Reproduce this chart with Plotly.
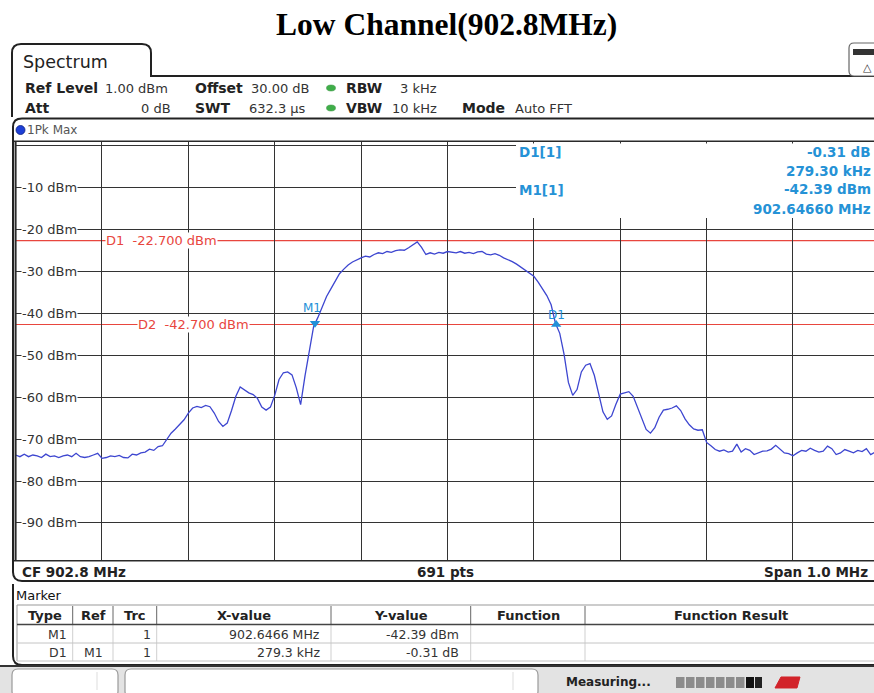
import plotly.graph_objects as go

# ---------------- data ----------------
start_freq_mhz = 902.3
center_freq_mhz = 902.8
span_mhz = 1.0
sample_step_khz = 5
trace_level_dbm = [
    -73.8, -74.2, -73.6, -74.2, -73.8, -74.0, -74.4, -73.6, -74.2, -74.0,
    -74.4, -74.0, -73.8, -74.2, -73.4, -74.2, -74.4, -74.2, -73.8, -73.4,
    -74.6, -74.4, -74.0, -74.2, -73.9, -74.4, -74.5, -73.6, -73.8, -73.3,
    -73.1, -72.4, -72.7, -71.8, -71.6, -70.2, -68.6, -67.6, -66.5, -65.4,
    -63.8, -62.6, -62.2, -62.5, -62.0, -62.3, -63.8, -65.8, -67.0, -66.2,
    -63.2, -59.8, -57.6, -58.4, -59.0, -59.4, -60.3, -62.4, -63.1, -62.4,
    -59.6, -55.8, -54.2, -54.0, -54.7, -57.8, -61.8, -55.0, -48.6, -43.2,
    -41.0, -38.3, -36.0, -34.2, -32.4, -30.6, -29.5, -28.5, -27.8, -27.2,
    -26.8, -26.4, -26.6, -26.0, -25.6, -25.8, -25.3, -25.5, -25.1, -24.9,
    -25.0, -24.4, -23.6, -23.0, -24.3, -26.0, -25.6, -25.9, -25.5, -25.7,
    -25.3, -25.4, -25.6, -25.3, -25.7, -25.5, -25.8, -25.4, -25.3, -25.9,
    -26.1, -25.8, -26.2, -26.8, -27.2, -27.7, -28.3, -29.0, -29.8, -30.5,
    -31.2, -32.6, -34.2, -35.8, -38.0, -42.4, -44.8, -49.8, -56.5, -59.6,
    -58.2, -54.0, -52.4, -52.0, -54.8, -59.2, -63.5, -65.3, -64.5, -61.7,
    -59.3, -59.0, -58.7, -59.8, -62.3, -64.8, -67.7, -68.6, -67.3, -64.8,
    -63.1, -62.9, -62.6, -62.1, -63.2, -65.2, -66.6, -67.6, -67.9, -67.8,
    -70.8, -71.6, -72.5, -72.9, -72.6, -73.1, -72.9, -71.2, -73.1, -72.3,
    -72.7, -73.7, -73.3, -72.9, -72.8, -72.4, -71.5, -72.5, -73.3, -73.5,
    -74.0, -73.3, -72.7, -72.9, -72.2, -72.7, -73.1, -72.9, -71.7, -72.3,
    -73.7, -73.3, -72.5, -72.9, -73.3, -72.7, -73.0, -72.3, -73.7, -73.1,
    -73.3,
]
ref_level_dbm = 1.0
range_db = 100
level_ticks_dbm = [-10, -20, -30, -40, -50, -60, -70, -80, -90]
level_tick_labels = ["-10 dBm", "-20 dBm", "-30 dBm", "-40 dBm", "-50 dBm",
                     "-60 dBm", "-70 dBm", "-80 dBm", "-90 dBm"]
display_lines_dbm = [-22.7, -42.7]
display_line_labels = ["D1  -22.700 dBm", "D2  -42.700 dBm"]
m1_freq_mhz = 902.6466
m1_level_dbm = -42.39
d1_delta_khz = 279.3
d1_delta_db = -0.31
table_header = ["Type", "Ref", "Trc", "X-value", "Y-value", "Function", "Function Result"]
table_rows = [["M1", "", "1", "902.6466 MHz", "-42.39 dBm"],
              ["D1", "M1", "1", "279.3 kHz", "-0.31 dB"]]

freq_mhz = [start_freq_mhz + i * sample_step_khz / 1000.0 for i in range(len(trace_level_dbm))]
d1_freq_mhz = m1_freq_mhz + d1_delta_khz / 1000.0
d1_level_dbm = m1_level_dbm + d1_delta_db

# ---------------- layout helpers (pixel -> paper) ----------------
W, H = 874, 693
PL, PFULL = 15.6, 863.75      # plot left pixel, pixel width of full 10 divisions
PT, PB = 141.2, 560.7         # plot top / bottom pixels
x_right = start_freq_mhz + (W - PL) / PFULL * span_mhz


def X(px):
    return px / W


def Y(py):
    return 1 - py / H


UI = "DejaVu Sans"
ann = []
shp = []


def text(t, x, y, size=13, color="#222", anchor="left", bold=False, bg=None,
         family=UI, yref="paper"):
    d = dict(text=("<b>%s</b>" % t if bold else t), x=X(x), xref="paper",
             y=(Y(y) if yref == "paper" else y), yref=yref,
             xanchor=anchor, yanchor="middle", showarrow=False, borderpad=0,
             font=dict(size=size, color=color, family=family))
    if bg:
        d["bgcolor"] = bg
    ann.append(d)


def line(x0, y0, x1, y1, color="#333", width=1.0, layer="above"):
    shp.append(dict(type="line", xref="paper", yref="paper", x0=X(x0), y0=Y(y0),
                    x1=X(x1), y1=Y(y1), line=dict(color=color, width=width), layer=layer))


def rect(x0, y0, x1, y1, fill, color=None, width=0, layer="above"):
    shp.append(dict(type="rect", xref="paper", yref="paper", x0=X(x0), y0=Y(y0),
                    x1=X(x1), y1=Y(y1), fillcolor=fill,
                    line=dict(color=color or fill, width=width), layer=layer))


def path(tokens, color="#222", width=2.0, fill=None, layer="above"):
    s = ""
    for t in tokens:
        c, coords = t[0], t[1:]
        pts = ["%.5f,%.5f" % (X(coords[i]), Y(coords[i + 1])) for i in range(0, len(coords), 2)]
        s += c + " " + " ".join(pts) + " "
    d = dict(type="path", xref="paper", yref="paper", path=s,
             line=dict(color=color, width=width), layer=layer)
    if fill:
        d["fillcolor"] = fill
    shp.append(d)


def rrect(x0, y0, x1, y1, r, color, width, fill=None):
    path([("M", x0 + r, y0), ("L", x1 - r, y0), ("Q", x1, y0, x1, y0 + r),
          ("L", x1, y1 - r), ("Q", x1, y1, x1 - r, y1), ("L", x0 + r, y1),
          ("Q", x0, y1, x0, y1 - r), ("L", x0, y0 + r), ("Q", x0, y0, x0 + r, y0), ("Z",)],
         color=color, width=width, fill=fill)


# ---------------- figure ----------------
fig = go.Figure()
fig.add_trace(go.Scatter(x=freq_mhz, y=trace_level_dbm, mode="lines",
                         line=dict(color="#3d46d0", width=1.3), hoverinfo="skip"))
fig.add_trace(go.Scatter(x=[m1_freq_mhz], y=[m1_level_dbm], mode="markers",
                         marker=dict(symbol="triangle-down", size=9, color="#2290d8"),
                         hoverinfo="skip"))
fig.add_trace(go.Scatter(x=[d1_freq_mhz], y=[d1_level_dbm], mode="markers",
                         marker=dict(symbol="triangle-up", size=9, color="#2290d8"),
                         hoverinfo="skip"))

# display lines D1 / D2
for lv, lab, lx in zip(display_lines_dbm, display_line_labels, [105, 137]):
    shp.append(dict(type="line", xref="paper", yref="y", x0=X(PL), x1=1, y0=lv, y1=lv,
                    line=dict(color="#e8463e", width=1.2), layer="below"))
    text(lab, lx, lv, size=13, color="#e8463e", bg="white", yref="y")

# level labels
for lv, lab in zip(level_ticks_dbm, level_tick_labels):
    text(lab, 21, lv, size=13, color="#333", bg="white", yref="y")

# marker labels on the trace
ann.append(dict(text="M1", x=m1_freq_mhz, y=m1_level_dbm, xref="x", yref="y",
                showarrow=False, xshift=-3, yshift=15,
                font=dict(size=12, color="#2290d8", family=UI)))
ann.append(dict(text="D1", x=d1_freq_mhz, y=d1_level_dbm, xref="x", yref="y",
                showarrow=False, xshift=0, yshift=10,
                font=dict(size=12, color="#2290d8", family=UI)))

# marker info block (top right of diagram)
rect(516, 143.5, 880, 218, "white")
blue = "#2592d6"
text("D1[1]", 518, 152, size=13.5, color=blue, bold=True)
text("M1[1]", 518, 190, size=13.5, color=blue, bold=True)
text("-0.31 dB", 872, 152, size=13.5, color=blue, bold=True, anchor="right")
text("279.30 kHz", 872, 170.5, size=13.5, color=blue, bold=True, anchor="right")
text("-42.39 dBm", 872, 189.5, size=13.5, color=blue, bold=True, anchor="right")
text("902.64660 MHz", 872, 208.5, size=13.5, color=blue, bold=True, anchor="right")

# diagram frame
line(14, PT, 880, PT, "#2a2a2a", 1.5)
line(PL, PT, PL, PB, "#2a2a2a", 2)
line(14, PB, 880, PB, "#2a2a2a", 1.5)

# title
text("Low Channel(902.8MHz)", 446, 25, size=31.5, color="#000", anchor="center",
     bold=True, family="Liberation Serif")

# tab + window outlines
path([("M", 12, 117), ("L", 12, 53), ("Q", 12, 44, 21, 44), ("L", 142, 44),
      ("Q", 151, 44, 151, 53), ("L", 151, 76), ("L", 880, 76)], "#222", 2)
text("Spectrum", 22, 61.5, size=17.5, color="#222")
rrect(849, 43, 885, 76, 5, "#666", 1.2, fill="white")
rect(853, 49, 874, 55, "#333")
text("△", 867, 67, size=11, color="#333", anchor="center")

path([("M", 880, 118.5), ("L", 22, 118.5), ("Q", 13, 118.5, 13, 127), ("L", 13, 572),
      ("Q", 13, 581, 22, 581), ("L", 880, 581)], "#222", 2)
path([("M", 13, 584), ("L", 13, 656), ("Q", 13, 665, 22, 665), ("L", 880, 665)], "#222", 2)

# header settings
r1, r2 = 88, 108
HB, HN = 14, 13
text("Ref Level", 24, r1, size=HB, bold=True)
text("1.00 dBm", 104, r1, size=HN, color="#333")
text("Offset", 194, r1, size=HB, bold=True)
text("30.00 dB", 250, r1, size=HN, color="#333")
text("RBW", 345, r1, size=HB, bold=True)
text("3 kHz", 438, r1, size=HN, color="#333", anchor="right")
text("Att", 24, r2, size=HB, bold=True)
text("0 dB", 172, r2, size=HN, color="#333", anchor="right")
text("SWT", 194, r2, size=HB, bold=True)
text("632.3 µs", 248, r2, size=HN, color="#333")
text("VBW", 345, r2, size=HB, bold=True)
text("10 kHz", 438, r2, size=HN, color="#333", anchor="right")
text("Mode", 461, r2, size=HB, bold=True)
text("Auto FFT", 514, r2, size=HN, color="#333")
for yy in (r1, r2):
    shp.append(dict(type="circle", xref="paper", yref="paper", x0=X(326.5), x1=X(335.5),
                    y0=Y(yy + 3), y1=Y(yy - 3), fillcolor="#3fae49",
                    line=dict(color="#2f8f39", width=0.5)))

# trace label row
shp.append(dict(type="circle", xref="paper", yref="paper", x0=X(16), x1=X(25),
                y0=Y(134.5), y1=Y(125.5), fillcolor="#1d3fd6",
                line=dict(color="#0d1f80", width=0.8)))
text("1Pk Max", 26, 130, size=12, color="#555")

# footer of diagram
text("CF 902.8 MHz", 21, 571.5, size=13.5, bold=True, color="#222")
text("691 pts", 445, 571.5, size=13.5, bold=True, color="#222", anchor="center")
text("Span 1.0 MHz", 869, 571.5, size=13.5, bold=True, color="#222", anchor="right")

# marker table
text("Marker", 15, 595, color="#111")
col_sep = [72.7, 113, 156.7, 331, 470.7, 585]
col_center = [45, 93, 135, 244, 401, 528, 731]
line(17, 605, 880, 605, "#999", 1)
line(17, 605, 17, 661, "#999", 1)
for cx in col_sep:
    line(cx, 606, cx, 624, "#666", 1)
    line(cx, 625, cx, 661, "#cfcfcf", 1)
line(17, 624.5, 880, 624.5, "#444", 1.5)
line(17, 643, 880, 643, "#c4c4c4", 1)
line(17, 661, 880, 661, "#c4c4c4", 1)
for h, cx in zip(table_header, col_center):
    text(h, cx, 615, bold=True, color="#222", anchor="center")
col_right = [68, 104, 152, 321, 460]
for row, yy in zip(table_rows, [634, 652]):
    for val, rx in zip(row, col_right):
        if val:
            text(val, rx, yy, size=12.5, color="#333", anchor="right")

# status bar
rect(0, 666, 880, 693, "#e3e3e3", layer="below")
line(0, 666, 880, 666, "#333", 2)
rrect(12, 669, 118, 697, 6, "#9a9a9a", 1.2, fill="white")
line(97, 672, 97, 690, "#dddddd", 1)
rrect(125, 669, 538, 697, 6, "#9a9a9a", 1.2, fill="white")
line(513, 672, 513, 690, "#dddddd", 1)
text("Measuring...", 565, 682, size=12, bold=True, color="#222")
for i in range(7):
    rect(676 + i * 10, 677, 684.5 + i * 10, 688, "#8c8c8c")
rect(746, 677, 754, 688, "#111")
rect(755, 677, 762, 688, "#222")
path([("M", 775, 688), ("L", 781, 677), ("L", 800, 677), ("L", 797, 688), ("Z",)],
     "#d2232a", 1, fill="#d2232a")

fig.update_layout(
    width=W, height=H, margin=dict(l=0, r=0, t=0, b=0, pad=0),
    paper_bgcolor="white", plot_bgcolor="white", showlegend=False,
    xaxis=dict(domain=[X(PL), 1], range=[start_freq_mhz, x_right], showgrid=True,
               gridcolor="#333333", gridwidth=1.3, tick0=start_freq_mhz, dtick=0.1,
               showticklabels=False, ticks="", zeroline=False, showline=False,
               fixedrange=True),
    yaxis=dict(domain=[Y(PB), Y(PT)], range=[ref_level_dbm - range_db, ref_level_dbm],
               showgrid=True, gridcolor="#333333", gridwidth=1.3, tick0=0, dtick=10,
               showticklabels=False, ticks="", zeroline=False, showline=False,
               fixedrange=True),
    annotations=ann, shapes=shp,
)

fig.write_html("out.html", config={"displayModeBar": False},
               post_script="document.body.style.margin='0px';"
                           "document.body.style.overflow='hidden';")
